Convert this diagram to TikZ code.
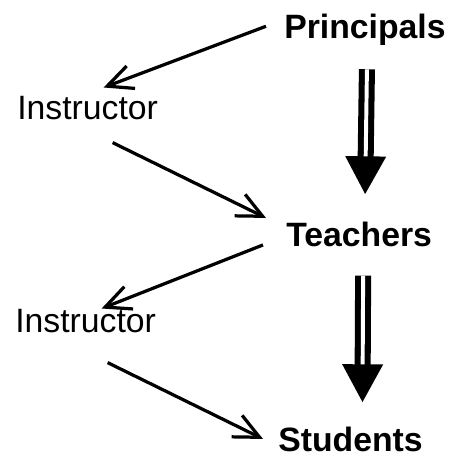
\documentclass[tikz,border=0pt]{standalone}
\usepackage{fontspec}
\setmainfont{Liberation Sans}
\usetikzlibrary{arrows.meta}

\begin{document}
\begin{tikzpicture}[x=0.025cm, y=-0.025cm,
	level/.style={font=\fontsize{24}{28}\selectfont\bfseries, inner sep=0pt, anchor=base west},
	instr/.style={font=\fontsize{24}{28}\selectfont, inner sep=0pt, anchor=base west},
	passarrow/.style={line width=2.3pt, -{Straight Barb[length=18pt, width=17pt]}},
	dblarrow/.style={line width=4.3pt, double distance=2.8pt, -{Triangle[length=27pt, width=28pt]}}]
\useasboundingbox (0,0) rectangle (451,464);

\pgfmathsetmacro{\colL}{16}
\pgfmathsetmacro{\colR}{284}

\node[level] (pr) at (\colR, 39) {Principals};
\node[level] (te) at (\colR+2, 246) {Teachers};
\node[level] (st) at (\colR-6, 451) {Students};

\node[instr] (ia) at (\colL+1, 120) {Instructor};
\node[instr] (ib) at (\colL-1, 332) {Instructor};

% down the right side
\draw[dblarrow] ([shift={(2,23)}]pr.south) -- ([shift={(6,-27)}]te.north);
\draw[dblarrow] ([shift={(4,29)}]te.south) -- ([shift={(12,-24)}]st.north);

% round the left side
\draw[passarrow] ([shift={(-18,-4)}]pr.west) -- ([shift={(16,-9)}]ia.north);
\draw[passarrow] ([shift={(25,22)}]ia.south) -- ([shift={(-20,-16)}]te.west);
\draw[passarrow] ([shift={(-23,11)}]te.west) -- ([shift={(16,0)}]ib.north);
\draw[passarrow] ([shift={(22,30)}]ib.south) -- ([shift={(-15,0)}]st.west);
\end{tikzpicture}
\end{document}
